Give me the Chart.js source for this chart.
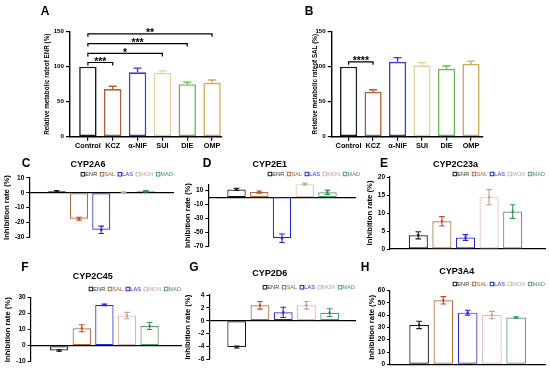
<!DOCTYPE html>
<html>
<head>
<meta charset="utf-8">
<script src="https://cdn.jsdelivr.net/npm/chart.js@4.4.0/dist/chart.umd.min.js"></script>
<style>
  body { margin: 0; background: #fff; }
  #fig { position: relative; width: 550px; height: 372px; overflow: hidden; font-family: "Liberation Sans", Arial, sans-serif; }
  #fig canvas { position: absolute; left: 0; top: 0; pointer-events: none; }
  .tag { position: absolute; font-weight: bold; font-size: 12px; line-height: 1; transform: translate(-50%, -50%); }
</style>
</head>
<body>
<div id="fig">
  <canvas id="chartA" width="550" height="372"></canvas>
  <canvas id="chartB" width="550" height="372"></canvas>
  <canvas id="chartC" width="550" height="372"></canvas>
  <canvas id="chartD" width="550" height="372"></canvas>
  <canvas id="chartE" width="550" height="372"></canvas>
  <canvas id="chartF" width="550" height="372"></canvas>
  <canvas id="chartG" width="550" height="372"></canvas>
  <canvas id="chartH" width="550" height="372"></canvas>
  <div class="tag" style="left:45px;top:11px">A</div>
  <div class="tag" style="left:309px;top:11px">B</div>
  <div class="tag" style="left:26px;top:163px">C</div>
  <div class="tag" style="left:207px;top:163px">D</div>
  <div class="tag" style="left:384px;top:163px">E</div>
  <div class="tag" style="left:25px;top:267px">F</div>
  <div class="tag" style="left:194px;top:267px">G</div>
  <div class="tag" style="left:365px;top:267px">H</div>
</div>
<script>
const W = 550, H = 372;
Chart.defaults.font.family = '"Liberation Sans", Arial, sans-serif';
Chart.defaults.color = '#000';

// A / B: relative metabolic rate
const groups = ['Control', 'KCZ', 'α-NIF', 'SUI', 'DIE', 'OMP'];
const rateTicks = [0, 50, 100, 150];
const enrRate = [100, 68, 92, 91, 75, 77];
const enrErr = [0, 4, 6, 3, 3, 4];
const enrSigTo = [1, 3, 4, 5];
const enrSigAt = [106, 119, 133, 147];
const enrSigText = ['***', '*', '***', '**'];
const salRate = [100, 64, 107, 102, 97, 104];
const salErr = [0, 3, 6, 4, 4, 4];
const salSigTo = [1];
const salSigAt = [107];
const salSigText = ['****'];

// C - H: inhibition rate per CYP
const drugs = ['ENR', 'SAL', 'LAS', 'MON', 'MAD'];
const cyp2a6 = [1.0, -17.5, -25, 0.3, 1.0];
const cyp2a6Err = [0.5, 1, 2.5, 0.2, 0.4];
const cyp2a6Ticks = [-30, -20, -10, 0, 10];
const cyp2e1 = [11, 7.3, -58, 18.7, 7];
const cyp2e1Err = [1.5, 1.5, 6, 1.5, 3];
const cyp2e1Ticks = [-70, -50, -30, -10, 10];
const cyp2c23a = [3.8, 7.7, 3.2, 14.4, 10.4];
const cyp2c23aErr = [1.0, 1.3, 0.8, 2.1, 1.9];
const cyp2c23aTicks = [0, 5, 10, 15, 20];
const cyp2c45 = [-3, 10.9, 25.5, 18.8, 12.3];
const cyp2c45Err = [0.5, 2.2, 0.5, 2.0, 2.2];
const cyp2c45Ticks = [-10, 0, 10, 20, 30];
const cyp2d6 = [-4.1, 2.4, 1.3, 2.4, 1.25];
const cyp2d6Err = [0.15, 0.6, 0.8, 0.6, 0.6];
const cyp2d6Ticks = [-6, -4, -2, 0, 2, 4];
const cyp3a4 = [32, 52, 42, 40, 38];
const cyp3a4Err = [3, 3, 2, 3, 0.6];
const cyp3a4Ticks = [0, 10, 20, 30, 40, 50, 60];

const groupColors = ['#1a1a1a', '#b0603a', '#3b3bc4', '#e4d2a2', '#6ab84e', '#d4a95c'];
const drugColors = ['#1a1a1a', '#b4693a', '#2626d8', '#dcbcb0', '#4f9e6e'];
const drugErrColors = ['#1a1a1a', '#d2452e', '#2626d8', '#c4a48e', '#3f8e5e'];
const drugTextColors = ['#333333', '#a0603a', '#2626c8', '#b8a49a', '#4f8e66'];

const errorBarPlugin = {
  id: 'errorBars',
  afterDatasetsDraw(chart, args, opts) {
    const ctx = chart.ctx;
    const y = chart.scales.y;
    const ds = chart.data.datasets[0];
    ctx.save();
    ctx.lineWidth = opts.width;
    chart.getDatasetMeta(0).data.forEach((bar, i) => {
      const e = opts.errors[i];
      if (!e) return;
      const v = ds.data[i].y;
      const dir = v < 0 ? -1 : 1;
      const top = y.getPixelForValue(v + dir * e);
      const bottom = y.getPixelForValue(opts.twoSided ? v - dir * e : v);
      ctx.strokeStyle = opts.colors[i];
      ctx.fillStyle = opts.colors[i];
      ctx.beginPath();
      ctx.moveTo(bar.x, bottom);
      ctx.lineTo(bar.x, top);
      ctx.moveTo(bar.x - opts.cap, top);
      ctx.lineTo(bar.x + opts.cap, top);
      if (opts.twoSided) {
        ctx.moveTo(bar.x - opts.cap, bottom);
        ctx.lineTo(bar.x + opts.cap, bottom);
      }
      ctx.stroke();
      if (opts.dot) {
        const m = y.getPixelForValue(v);
        ctx.fillRect(bar.x - opts.dot / 2, m - opts.dot / 2, opts.dot, opts.dot);
      }
    });
    ctx.restore();
  }
};

const bracketPlugin = {
  id: 'brackets',
  afterDatasetsDraw(chart, args, opts) {
    if (!opts.to) return;
    const { ctx, scales: { x, y } } = chart;
    ctx.save();
    ctx.strokeStyle = '#000';
    ctx.fillStyle = '#000';
    ctx.lineWidth = 1.2;
    ctx.font = 'bold 10.5px "Liberation Sans", Arial, sans-serif';
    ctx.textAlign = 'center';
    ctx.textBaseline = 'alphabetic';
    opts.to.forEach((k, j) => {
      const x1 = x.getPixelForValue(0);
      const x2 = x.getPixelForValue(k);
      const yy = y.getPixelForValue(opts.at[j]);
      ctx.beginPath();
      ctx.moveTo(x1, yy + 3);
      ctx.lineTo(x1, yy);
      ctx.lineTo(x2, yy);
      ctx.lineTo(x2, yy + 3);
      ctx.stroke();
      ctx.fillText(opts.text[j], (x1 + x2) / 2, yy + 2.5);
    });
    ctx.restore();
  }
};

// small key row ("□ENR □SAL ..."), right-aligned to the plot
const keyPlugin = {
  id: 'drugKey',
  afterDraw(chart, args, opts) {
    if (!opts.y) return;
    const ctx = chart.ctx;
    ctx.save();
    ctx.font = opts.size + 'px "Liberation Sans", Arial, sans-serif';
    ctx.textBaseline = 'middle';
    ctx.lineWidth = 1;
    const widths = drugs.map(d => ctx.measureText(d).width);
    const total = widths.reduce((s, w) => s + opts.box + opts.gap + w, 0) + opts.space * (drugs.length - 1);
    let x = chart.chartArea.right + (opts.shift || 0) - total;
    drugs.forEach((d, i) => {
      ctx.strokeStyle = drugColors[i];
      ctx.strokeRect(x + 0.5, opts.y - opts.box / 2, opts.box, opts.box);
      x += opts.box + opts.gap;
      ctx.fillStyle = drugTextColors[i];
      ctx.fillText(d, x, opts.y);
      x += widths[i] + opts.space;
    });
    ctx.restore();
  }
};

function rateChart(id, values, errors, sigTo, sigAt, sigText, yTitle, box) {
  return new Chart(document.getElementById(id), {
    type: 'bar',
    data: {
      datasets: [{
        data: values.map((v, i) => ({ x: i, y: v })),
        backgroundColor: '#fff',
        borderColor: groupColors,
        borderWidth: 1.6,
        borderSkipped: false,
        barPercentage: 0.78,
        categoryPercentage: 0.9
      }]
    },
    options: {
      responsive: false,
      animation: false,
      devicePixelRatio: 1,
      events: [],
      layout: { padding: { left: box.l - box.yw, right: W - box.r, top: box.t, bottom: H - box.b - box.xh } },
      plugins: {
        legend: { display: false },
        tooltip: { enabled: false },
        errorBars: { errors: errors, colors: groupColors, twoSided: false, cap: 4, width: 1.4 },
        brackets: { to: sigTo, at: sigAt, text: sigText }
      },
      scales: {
        x: {
          type: 'linear',
          offset: false,
          min: box.xmin,
          max: box.xmax,
          afterBuildTicks: s => { s.ticks = groups.map((g, i) => ({ value: i })); },
          afterFit: s => { s.height = box.xh; },
          grid: { offset: false, drawOnChartArea: false, tickLength: 4, color: '#000', lineWidth: 1.2 },
          border: { color: '#000', width: 1.4 },
          ticks: { callback: v => groups[v], autoSkip: false, maxRotation: 0, padding: 1, font: { size: 7.3, weight: 'bold' } }
        },
        y: {
          min: rateTicks[0],
          max: rateTicks[rateTicks.length - 1],
          afterBuildTicks: s => { s.ticks = rateTicks.map(v => ({ value: v })); },
          afterFit: s => { s.width = box.yw; },
          grid: { drawOnChartArea: false, tickLength: 4, color: '#000', lineWidth: 1.2 },
          border: { color: '#000', width: 1.4 },
          ticks: { padding: 2, font: { size: 6.2, weight: 'bold' } },
          title: { display: true, text: yTitle, padding: 0, font: { size: 6.3, weight: 'bold', lineHeight: 1 } }
        }
      }
    },
    plugins: [errorBarPlugin, bracketPlugin]
  });
}

function inhibitionChart(id, title, values, errors, ticks, box) {
  return new Chart(document.getElementById(id), {
    type: 'bar',
    data: {
      datasets: [{
        label: title,
        data: values.map((v, i) => ({ x: i, y: v })),
        backgroundColor: '#fff',
        borderColor: drugColors,
        borderWidth: 1.2,
        borderSkipped: false,
        barPercentage: 0.9,
        categoryPercentage: 0.9
      }]
    },
    options: {
      responsive: false,
      animation: false,
      devicePixelRatio: 1,
      events: [],
      layout: { padding: { left: box.l - box.yw, right: W - box.r, top: box.titleY - 4.5, bottom: H - box.b } },
      plugins: {
        title: {
          display: true,
          text: title,
          padding: { top: 0, bottom: box.t - box.titleY - 4.5 },
          font: { size: 9, weight: 'bold', lineHeight: 1 }
        },
        legend: { display: false },
        tooltip: { enabled: false },
        errorBars: { errors: errors, colors: drugErrColors, twoSided: true, cap: 2.8, width: 1.1, dot: 2.2 },
        drugKey: { y: box.legendY, size: 5.6, box: 3.5, gap: 1.2, space: 2.6, shift: box.keyShift }
      },
      scales: {
        x: {
          type: 'linear',
          offset: false,
          position: { y: 0 },
          min: box.xmin,
          max: box.xmax,
          afterBuildTicks: s => { s.ticks = drugs.map((d, i) => ({ value: i })); },
          ticks: { display: false },
          grid: { display: false, offset: false },
          border: { color: '#000', width: 1.2 }
        },
        y: {
          min: ticks[0],
          max: box.ymax,
          afterBuildTicks: s => { s.ticks = ticks.map(v => ({ value: v })); },
          afterFit: s => { s.width = box.yw; },
          grid: { drawOnChartArea: false, tickLength: 3, color: '#000', lineWidth: 1 },
          border: { color: '#000', width: 1.2 },
          ticks: { padding: 2, font: { size: 6.5, weight: 'bold' } },
          title: { display: true, text: 'Inhibition rate (%)', padding: 0, font: { size: 7.7, weight: 'bold', lineHeight: 1 } }
        }
      }
    },
    plugins: [errorBarPlugin, keyPlugin]
  });
}

rateChart('chartA', enrRate, enrErr, enrSigTo, enrSigAt, enrSigText, 'Relative metabolic rateof ENR (%)',
  { l: 70, r: 222, t: 31.7, b: 136.7, yw: 26.1, xh: 14, xmin: -0.72, xmax: 5.4 });
rateChart('chartB', salRate, salErr, salSigTo, salSigAt, salSigText, 'Relative metabolic rateof SAL (%)',
  { l: 331.7, r: 483, t: 31.7, b: 136.7, yw: 19.8, xh: 14, xmin: -0.69, xmax: 5.49 });

inhibitionChart('chartC', 'CYP2A6', cyp2a6, cyp2a6Err, cyp2a6Ticks,
  { l: 29.3, r: 173, t: 177.9, b: 237.2, yw: 26.3, titleY: 165, legendY: 174.3, xmin: -1.23, xmax: 5.22, ymax: 10 });
inhibitionChart('chartD', 'CYP2E1', cyp2e1, cyp2e1Err, cyp2e1Ticks,
  { l: 208.3, r: 355, t: 184.5, b: 246.7, yw: 24, titleY: 165, legendY: 174, xmin: -1.24, xmax: 5.21, ymax: 18, keyShift: 5 });
inhibitionChart('chartE', 'CYP2C23a', cyp2c23a, cyp2c23aErr, cyp2c23aTicks,
  { l: 390, r: 545, t: 177, b: 249, yw: 24, titleY: 165, legendY: 174, xmin: -1.2, xmax: 5.37, ymax: 20 });
inhibitionChart('chartF', 'CYP2C45', cyp2c45, cyp2c45Err, cyp2c45Ticks,
  { l: 30.7, r: 181, t: 297.7, b: 361.7, yw: 26.4, titleY: 277, legendY: 289, xmin: -1.26, xmax: 5.39, ymax: 30 });
inhibitionChart('chartG', 'CYP2D6', cyp2d6, cyp2d6Err, cyp2d6Ticks,
  { l: 209.3, r: 355, t: 295, b: 359.3, yw: 25, titleY: 274, legendY: 287.3, xmin: -1.18, xmax: 5.09, ymax: 4 });
inhibitionChart('chartH', 'CYP3A4', cyp3a4, cyp3a4Err, cyp3a4Ticks,
  { l: 390, r: 545, t: 290.5, b: 364.3, yw: 21.7, titleY: 272, legendY: 284, xmin: -1.2, xmax: 5.19, ymax: 60 });
</script>
</body>
</html>
